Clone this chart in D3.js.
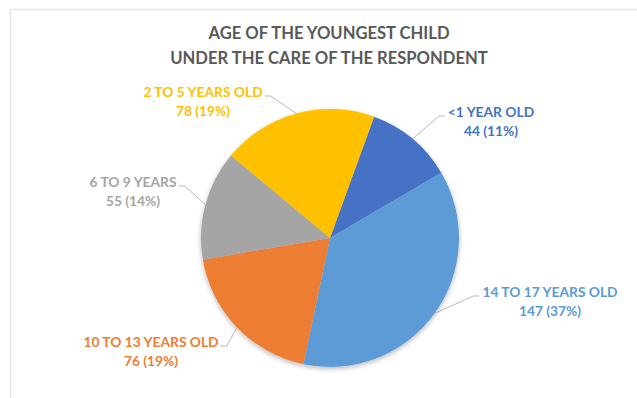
<!DOCTYPE html>
<html>
<head>
<meta charset="utf-8">
<script src="https://cdn.jsdelivr.net/npm/d3@7"></script>
<style>
  html, body { margin: 0; padding: 0; background: #fff; }
  svg { display: block; }
  text { font-family: Lato, "Open Sans", sans-serif; font-weight: 700; }
</style>
</head>
<body>
<svg id="chart" width="637" height="398"></svg>
<script>
// Survey answers: age of the youngest child in the respondent's care
const categories = ["<1 YEAR OLD", "14 TO 17 YEARS OLD", "10 TO 13 YEARS OLD", "6 TO 9 YEARS", "2 TO 5 YEARS OLD"];
const counts = [44, 147, 76, 55, 78];
const percentLabels = ["11%", "37%", "19%", "14%", "19%"];
const colors = ["#4472C4", "#5B9BD5", "#ED7D31", "#A5A5A5", "#FFC000"];
const titleLines = ["AGE OF THE YOUNGEST CHILD", "UNDER THE CARE OF THE RESPONDENT"];

// Layout
const W = 637, H = 398;
const cx = 330, cy = 238, R = 129;
const firstSliceAngle = 20; // degrees, clockwise from 12 o'clock
// label block centres, relative to the pie centre
const labelOffsets = [[161, -121], [220, 59], [-179, 109], [-197, -51], [-127, -141]];

const svg = d3.select("#chart");

// chart area frame (top and left edges)
svg.append("path")
  .attr("d", `M10.5,${H} V9.5 H${W}`)
  .attr("fill", "none")
  .attr("stroke", "#e6e6e6")
  .attr("stroke-width", 1.5);

// soft shadow under the pie
const defs = svg.append("defs");
const f = defs.append("filter").attr("id", "shadow")
  .attr("x", "-20%").attr("y", "-20%").attr("width", "140%").attr("height", "140%");
f.append("feDropShadow")
  .attr("dx", 0).attr("dy", 2).attr("stdDeviation", 2.5)
  .attr("flood-color", "#000").attr("flood-opacity", 0.28);

// title
svg.append("g").selectAll("text").data(titleLines).join("text")
  .attr("x", 329)
  .attr("y", (d, i) => 39 + i * 25)
  .attr("text-anchor", "middle")
  .attr("fill", "#595959")
  .attr("font-size", 16.6)
  .text(d => d);

const data = categories.map((c, i) => ({ cat: c, value: counts[i], pct: percentLabels[i], color: colors[i], off: labelOffsets[i] }));

const start = firstSliceAngle * Math.PI / 180;
const pie = d3.pie().value(d => d.value).sort(null)
  .startAngle(start).endAngle(start + 2 * Math.PI);
const arcs = pie(data);
const arc = d3.arc().innerRadius(0).outerRadius(R);

const g = svg.append("g").attr("transform", `translate(${cx},${cy})`);
g.append("g").attr("filter", "url(#shadow)")
  .selectAll("path").data(arcs).join("path")
  .attr("d", arc)
  .attr("fill", d => d.data.color);

// data labels with leader lines
const lab = g.append("g");
arcs.forEach(a => {
  const d = a.data;
  const [lx, ly] = d.off;
  const t = lab.append("text")
    .attr("text-anchor", "middle")
    .attr("fill", d.color)
    .attr("font-size", 13.8);
  t.append("tspan").attr("x", lx).attr("y", ly).text(d.cat);
  t.append("tspan").attr("x", lx).attr("y", ly + 19).text(`${d.value} (${d.pct})`);

  const w = t.select("tspan").node().getComputedTextLength();
  const mid = (a.startAngle + a.endAngle) / 2;
  const px = R * Math.sin(mid), py = -R * Math.cos(mid);
  const right = lx > 0;
  const edgeX = right ? lx - w / 2 - 3 : lx + w / 2 + 2;
  const elbowX = right ? edgeX - 6 : edgeX + 6;
  const yLine = ly - 1;
  lab.append("path")
    .attr("d", `M${edgeX},${yLine} H${elbowX} L${px},${py}`)
    .attr("fill", "none")
    .attr("stroke", "#a6a6a6")
    .attr("stroke-width", 0.8);
});
</script>
</body>
</html>
